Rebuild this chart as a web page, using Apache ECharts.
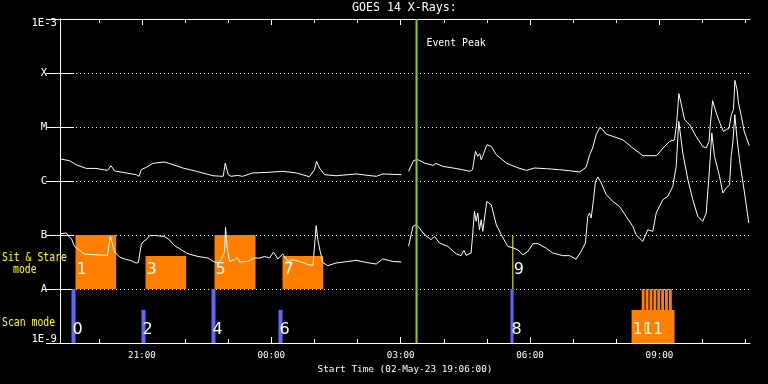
<!DOCTYPE html>
<html>
<head>
<meta charset="utf-8">
<script src="https://cdn.jsdelivr.net/npm/echarts@6/dist/echarts.min.js"></script>
<style>
html,body{margin:0;padding:0;background:#000;}
#c{width:768px;height:384px;}
</style>
</head>
<body>
<div id="c"></div>
<script>
// ---- data (time in minutes after start 02-May-23 19:06:00, flux in W/m^2) ----
const startLabel = 'Start Time (02-May-23 19:06:00)';
const timeTickLabels = ['21:00', '00:00', '03:00', '06:00', '09:00'];
const fluxTickLabels = ['1E-9', 'A', 'B', 'C', 'M', 'X', '1E-3'];

const longChannel = [
  [1,2.55e-6],[13,2.38e-6],[22.5,2.0e-6],[36.5,1.71e-6],[50,1.71e-6],[66,1.57e-6],[71,1.92e-6],[76,1.53e-6],
  [92,1.41e-6],[106,1.31e-6],[110,1.22e-6],[113,1.62e-6],[120,1.79e-6],[129,2.12e-6],[145,2.25e-6],[152,2.12e-6],
  [171,1.74e-6],[190,1.51e-6],[213,1.25e-6],[227,1.22e-6],[230,2.15e-6],[234,1.31e-6],[238,1.22e-6],[247,1.27e-6],
  [254,1.22e-6],[268,1.41e-6],[287,1.44e-6],[310,1.51e-6],[329,1.41e-6],[347,1.20e-6],[354,1.62e-6],[357,2.31e-6],
  [361,1.74e-6],[368,1.31e-6],[384,1.25e-6],[412,1.35e-6],[440,1.22e-6],[449,1.35e-6],[475,1.31e-6],[480,null],
  [485,1.51e-6],[492,2.40e-6],[498,2.48e-6],[507,2.15e-6],[519,1.95e-6],[523,2.12e-6],[533,1.86e-6],[547,1.74e-6],
  [560,1.62e-6],[570,1.51e-6],[574,1.62e-6],[578,3.53e-6],[581,2.86e-6],[584,3.21e-6],[586,2.48e-6],[588,2.86e-6],
  [594,4.70e-6],[600,4.37e-6],[607,3.07e-6],[621,2.15e-6],[635,1.79e-6],[649,1.57e-6],[660,1.74e-6],[677,1.69e-6],
  [695,1.62e-6],[709,1.55e-6],[723,1.47e-6],[732,1.80e-6],[737,3.07e-6],[741,4.08e-6],[746,7.2e-6],[751,9.8e-6],
  [755,8.9e-6],[760,7.4e-6],[769,6.7e-6],[783,5.8e-6],[797,4.08e-6],[811,2.94e-6],[830,2.94e-6],[839,4.08e-6],
  [848,5.4e-6],[855,5.8e-6],[858,1.19e-5],[861,4.14e-5],[864,2.78e-5],[869,1.36e-5],[876,1.10e-5],[885,6.7e-6],
  [894,4.37e-6],[899,4.08e-6],[903,5.4e-6],[905,1.19e-5],[908,3.07e-5],[913,1.82e-5],[918,1.19e-5],[923,8.3e-6],
  [927,8.9e-6],[931,9.6e-6],[934,1.69e-5],[937,2.09e-5],[939,7.3e-5],[942,4.9e-5],[944,2.78e-5],[948,1.57e-5],
  [952,8.2e-6],[959,4.5e-6]
];

const shortChannel = [
  [1,1.06e-7],[9,1.09e-7],[11,9.8e-8],[16,8.5e-8],[20,6.15e-8],[25,5.5e-8],[34,4.45e-8],[48,4.3e-8],[66,4.2e-8],
  [70,9.4e-8],[72,7.6e-8],[76,4.84e-8],[83,3.9e-8],[90,3.6e-8],[99,3.34e-8],[106,3.03e-8],[109,3.1e-8],[113,6.6e-8],
  [115,7.4e-8],[120,8.2e-8],[124.5,9.7e-8],[131.5,9.8e-8],[145,9.4e-8],[152,8.2e-8],[159,6.4e-8],[169,5.3e-8],
  [178,4.5e-8],[192,4.0e-8],[206,3.75e-8],[213,3.24e-8],[219.5,3.03e-8],[224,3.5e-8],[229,4.97e-8],[230.3,1.38e-7],
  [232.6,5.7e-8],[236,3.24e-8],[243,3.5e-8],[246.5,3.85e-8],[250,3.16e-8],[261,3.24e-8],[270,3.75e-8],[278,3.75e-8],
  [284.5,4.0e-8],[291.5,3.75e-8],[297,4.84e-8],[303,3.6e-8],[310,4.45e-8],[317,3.24e-8],[324,3.5e-8],[333,3.24e-8],
  [340,3.03e-8],[345,2.82e-8],[352,2.74e-8],[356.4,1.49e-7],[358.7,8.2e-8],[362,4.97e-8],[365.6,3.1e-8],[372.6,2.7e-8],
  [384,3.03e-8],[398,3.2e-8],[412,3.39e-8],[426,3.1e-8],[440,2.9e-8],[449,3.6e-8],[463,3.24e-8],[475,3.16e-8],
  [480,null],[485,6.2e-8],[491,1.44e-7],[495.6,1.55e-7],[500,1.35e-7],[505,1.09e-7],[516,8.2e-8],[521,9.4e-8],
  [528,7.1e-8],[539.5,6.15e-8],[551,4.5e-8],[558,4.14e-8],[562,5.2e-8],[565,4.2e-8],[572,4.64e-8],[576.7,2.74e-7],
  [579,1.79e-7],[581.3,2.55e-7],[583.6,1.25e-7],[586,1.92e-7],[588.2,1.17e-7],[593.8,4.19e-7],[600,3.64e-7],
  [607,1.55e-7],[614,1.01e-7],[623,6.15e-8],[630,5.8e-8],[637,5.3e-8],[644,4.3e-8],[651,4.97e-8],[658,6.9e-8],
  [665,6.9e-8],[676.5,5.7e-8],[685.6,4.64e-8],[699.6,4.14e-8],[709,4.14e-8],[718,3.56e-8],[725,4.97e-8],[731,7.1e-8],
  [734.3,2.2e-7],[736.7,2.55e-7],[739,2.06e-7],[742.3,4.5e-7],[745,9.8e-7],[748.2,1.19e-6],[753,9.2e-7],[760,5.6e-7],
  [769,4.19e-7],[778.4,3.39e-7],[787.7,2.21e-7],[797,1.44e-7],[801.6,1.01e-7],[810.8,7.6e-8],[817.8,1.25e-7],
  [824.8,1.17e-7],[829.5,2.55e-7],[838.7,4.5e-7],[845.6,5.2e-7],[852.6,7.9e-7],[857.3,1.86e-6],[860.9,1.27e-5],
  [866.5,3.3e-6],[873.5,1.06e-6],[880.4,4.5e-7],[887.4,2.21e-7],[894.3,1.79e-7],[899.1,2.55e-7],[903.6,1.62e-6],
  [906.9,7.7e-6],[910.6,2.86e-6],[917.6,1.22e-6],[922.2,6.0e-7],[926.9,7.4e-7],[931.5,8.5e-7],[933.8,2.86e-6],
  [936.1,5.06e-6],[938.9,1.69e-5],[941.6,6.7e-6],[945.4,2.48e-6],[952.4,6.0e-7],[958.3,1.67e-7]
];

const eventPeakMinute = 496;

// Scan mode observations (band 1E-9 .. A)
const scanIds   = ['0', '2', '4', '6', '8', '10'];
const scanStart = [16, 113.4, 210.8, 304, 626.8, 795.2];
const scanEnd   = [21.6, 119, 216.3, 309.6, 631, 855];
const scanTop   = [1e-8, 4.1e-9, 1e-8, 4.1e-9, 1e-8, 4.1e-9];
// observation 11: series of short rasters
const obs11Start = [809.4, 814.8, 820.2, 825.6, 831.0, 836.4, 841.8, 847.2];
const obs11End   = [813.4, 818.8, 824.2, 829.6, 835.0, 840.4, 845.8, 851.2];

// Sit & Stare observations (band A .. B)
const stareIds   = ['1', '3', '5', '7', '9'];
const stareStart = [21.6, 119, 215, 309.6, 630];
const stareEnd   = [78.2, 175.6, 272, 366.2, 630];
const stareTop   = [1e-7, 4.1e-8, 1e-7, 4.1e-8, 1e-7];

// ---- helpers ----
function labelToMinute(s) {
  const [h, m] = s.split(':').map(Number);
  let t = h * 60 + m - (19 * 60 + 6);
  if (t < 0) t += 24 * 60;
  return t;
}
const labelMinutes = timeTickLabels.map(labelToMinute);
const hourMinutes = [];
for (let t = 54; t <= 960; t += 60) hourMinutes.push(t);

const FONT = 'DejaVu Sans Mono';
const ORANGE = '#ff8000';
const BLUE = '#6464ff';
const WHITE = '#ffffff';
const YELLOW = '#ffff00';

// build custom data rows: [start, end, bottom, top, id, band]
const boxRows = [];
scanIds.forEach((id, i) => boxRows.push([scanStart[i], scanEnd[i], 1e-9, scanTop[i], id, 'scan']));
boxRows.push([obs11Start[0], obs11End[obs11End.length - 1], 1e-9, 1e-8, '11', 'raster']);
stareIds.forEach((id, i) => boxRows.push([stareStart[i], stareEnd[i], 1e-8, stareTop[i], id, 'stare']));

const chart = echarts.init(document.getElementById('c'), null, {renderer: 'canvas'});

const xBase = {type: 'value', min: 0, max: 960, gridIndex: 0, splitLine: {show: false}};
const yBase = {type: 'log', logBase: 10, min: 1e-9, max: 1e-3, splitNumber: 6, gridIndex: 0};

function yLabel(v) {
  const e = Math.round(Math.log10(v));
  const txt = fluxTickLabels[e + 9];
  if (e === -3) return '{t|' + txt + '}';
  if (e === -9) return '{b|' + txt + '}';
  return '{c|' + txt + '}';
}
function xLabel(v) {
  const i = labelMinutes.indexOf(Math.round(v));
  return i >= 0 ? timeTickLabels[i] : '';
}

const option = {
  backgroundColor: '#000',
  animation: false,
  title: {
    text: 'GOES 14 X-Rays:', left: 352, top: 2, padding: 0,
    textStyle: {color: WHITE, fontFamily: FONT, fontSize: 11.6, fontWeight: 'normal'}
  },
  grid: {left: 60, top: 19, width: 690, height: 324, containLabel: false},
  xAxis: [
    Object.assign({}, xBase, {
      position: 'bottom',
      name: startLabel, nameLocation: 'middle', nameGap: 18,
      nameTextStyle: {color: WHITE, fontFamily: FONT, fontSize: 9.4},
      axisLine: {show: true, lineStyle: {color: WHITE, width: 1}},
      axisTick: {show: true, inside: true, length: 4, customValues: hourMinutes, lineStyle: {color: WHITE}},
      axisLabel: {show: true, customValues: labelMinutes, formatter: xLabel, color: WHITE, fontFamily: FONT, fontSize: 9.2, margin: 8}
    }),
    Object.assign({}, xBase, {
      position: 'bottom',
      axisLine: {show: false},
      axisTick: {show: true, inside: true, length: 6, customValues: labelMinutes, lineStyle: {color: WHITE}},
      axisLabel: {show: false}
    }),
    Object.assign({}, xBase, {
      position: 'top',
      axisLine: {show: true, lineStyle: {color: WHITE, width: 1}},
      axisTick: {show: true, inside: true, length: 4, customValues: hourMinutes, lineStyle: {color: WHITE}},
      axisLabel: {show: false}
    }),
    Object.assign({}, xBase, {
      position: 'top',
      axisLine: {show: false},
      axisTick: {show: true, inside: true, length: 6, customValues: labelMinutes, lineStyle: {color: WHITE}},
      axisLabel: {show: false}
    })
  ],
  yAxis: [
    Object.assign({}, yBase, {
      position: 'left',
      axisLine: {show: true, lineStyle: {color: WHITE, width: 1}},
      axisTick: {show: true, inside: true, length: 14, lineStyle: {color: WHITE}},
      axisLabel: {
        show: true, formatter: yLabel, color: WHITE, fontFamily: FONT, fontSize: 10.6, margin: 3,
        rich: {
          t: {color: WHITE, fontFamily: FONT, fontSize: 10.6, padding: [8, 0, 0, 0]},
          b: {color: WHITE, fontFamily: FONT, fontSize: 10.6, padding: [0, 0, 7, 0]},
          c: {color: WHITE, fontFamily: FONT, fontSize: 10.6, width: 26, align: 'center'}
        }
      },
      splitLine: {show: true, lineStyle: {color: WHITE, width: 1, type: [1, 3]}},
      minorTick: {show: false}
    }),
    Object.assign({}, yBase, {
      position: 'right',
      axisLine: {show: true, lineStyle: {color: WHITE, width: 1}},
      axisTick: {show: true, inside: true, length: 14, lineStyle: {color: WHITE}},
      axisLabel: {show: false},
      splitLine: {show: false}
    })
  ],
  graphic: [
    {type: 'text', x: 2, y: 252, scaleY: 1.2, style: {text: 'Sit & Stare', fill: YELLOW, font: '9.8px "DejaVu Sans Mono"'}},
    {type: 'text', x: 13, y: 264, scaleY: 1.2, style: {text: 'mode', fill: YELLOW, font: '9.8px "DejaVu Sans Mono"'}},
    {type: 'text', x: 2, y: 317, scaleY: 1.2, style: {text: 'Scan mode', fill: YELLOW, font: '9.8px "DejaVu Sans Mono"'}}
  ],
  series: [
    {
      type: 'custom', name: 'modes', xAxisIndex: 0, yAxisIndex: 0, z: 2,
      data: boxRows,
      encode: {x: [0, 1], y: [2, 3]},
      renderItem: function (params, api) {
        const row = boxRows[params.dataIndex];
        const [t0, t1, lo, hi, id, band] = row;
        const pA = api.coord([t0, hi]);
        const pB = api.coord([t1, lo]);
        const children = [];
        const labelFlux = band === 'stare' ? 1.6e-8 : 1.25e-9;
        const pL = api.coord([t0, labelFlux]);
        if (band === 'raster') {
          for (let k = 0; k < obs11Start.length; k++) {
            const a = api.coord([obs11Start[k], hi]);
            const b = api.coord([obs11End[k], lo]);
            children.push({type: 'rect', shape: {x: a[0], y: a[1], width: b[0] - a[0], height: b[1] - a[1]}, style: {fill: ORANGE}});
          }
        } else if (t1 === t0) {
          children.push({type: 'line', shape: {x1: pA[0], y1: pA[1], x2: pA[0], y2: pB[1]}, style: {stroke: YELLOW, lineWidth: 1}});
        } else {
          const fill = (band === 'scan' && id !== '10') ? BLUE : ORANGE;
          children.push({type: 'rect', shape: {x: pA[0], y: pA[1], width: pB[0] - pA[0], height: pB[1] - pA[1]}, style: {fill: fill}});
        }
        children.push({type: 'text', x: pL[0] + 1, y: pL[1], style: {text: id, fill: WHITE, font: '16px "DejaVu Sans"', verticalAlign: 'bottom', align: 'left'}});
        return {type: 'group', children: children};
      }
    },
    {
      type: 'line', name: 'long', xAxisIndex: 0, yAxisIndex: 0, z: 3,
      data: longChannel, showSymbol: false, symbol: 'none', connectNulls: false,
      lineStyle: {color: WHITE, width: 1}
    },
    {
      type: 'line', name: 'short', xAxisIndex: 0, yAxisIndex: 0, z: 3,
      data: shortChannel, showSymbol: false, symbol: 'none', connectNulls: false,
      lineStyle: {color: WHITE, width: 1}
    },
    {
      type: 'custom', name: 'event', xAxisIndex: 0, yAxisIndex: 0, z: 4,
      data: [[eventPeakMinute]],
      encode: {x: 0},
      renderItem: function (params, api) {
        const t = api.value(0);
        const top = api.coord([t, 1e-3]);
        const bot = api.coord([t, 1e-9]);
        return {type: 'group', children: [
          {type: 'line', shape: {x1: top[0], y1: top[1], x2: bot[0], y2: bot[1]}, style: {stroke: '#9acd00', lineWidth: 2}},
          {type: 'text', x: top[0] + 10, y: top[1] + 24, style: {text: 'Event Peak', fill: WHITE, font: '9.85px "DejaVu Sans Mono"', verticalAlign: 'middle', align: 'left'}}
        ]};
      }
    }
  ]
};
chart.setOption(option);
</script>
</body>
</html>
